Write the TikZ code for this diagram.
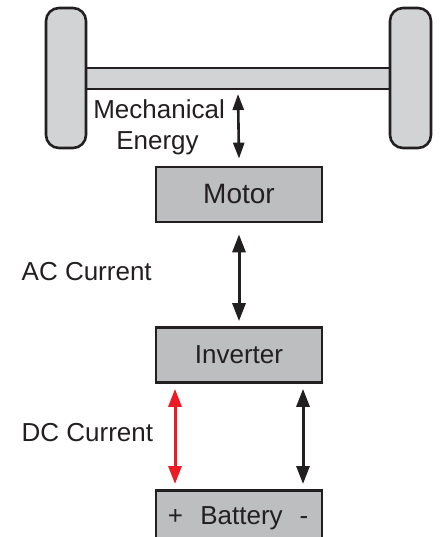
\documentclass[tikz,border=0pt]{standalone}
\usepackage{fontspec}
\setmainfont{Liberation Sans}
\usetikzlibrary{arrows.meta}
\definecolor{ink}{HTML}{231F20}
\definecolor{wheelgray}{HTML}{D1D3D4}
\definecolor{boxgray}{HTML}{BCBEC0}
\definecolor{dcred}{HTML}{ED1C24}
\tikzset{
  x=1pt,y=-1pt,
  wheel/.style={draw=ink,fill=wheelgray,line width=2.6pt,rounded corners=13pt},
  axle/.style={draw=ink,fill=wheelgray,line width=2.6pt},
  unit/.style={draw=ink,fill=boxgray,line width=2.7pt,minimum width=166pt,minimum height=55pt,inner sep=0pt,font=\fontsize{26}{31}\selectfont,text=ink},
  lbl/.style={font=\fontsize{26}{31}\selectfont,text=ink,inner sep=0pt},
  flow/.style={draw=ink,fill=ink,line width=3pt,{Triangle[length=18pt,width=13pt]}-{Triangle[length=18pt,width=13pt]}},
  smallflow/.style={draw=ink,fill=ink,line width=2.6pt,{Triangle[length=16pt,width=11pt]}-{Triangle[length=16pt,width=11pt]}},
}
\begin{document}
\begin{tikzpicture}
\useasboundingbox (0,0) rectangle (440,537);
\clip (0,0) rectangle (440,537);
% axle and wheels
\filldraw[axle] (84,68) rectangle (392,89);
\draw[wheel] (46,8) rectangle (86,148);
\draw[wheel] (390,8) rectangle (431,148);
\coordinate (mechtop) at (238,94);
% boxes
\node[unit,font=\fontsize{28}{33}\selectfont] (motor) at (239,194.5) {Motor};
\node[unit] (inverter) at (239,355) {Inverter};
\node[unit,minimum height=62pt,anchor=north] (battery) at (239,489) {};
\node[lbl,anchor=base] (plus) at (175.5,524) {+};
\node[lbl,anchor=base] (batt) at (241.5,524) {Battery};
\node[lbl,anchor=base] (minus) at (304,524) {-};
% labels
\node[lbl,anchor=base east] (mech) at (225,118.5) {Mechanical};
\node[lbl,anchor=base] (energy) at (157.5,150) {Energy};
\node[lbl,anchor=base west] (ac) at (21.5,280) {AC Current};
\node[lbl,anchor=base west] (dc) at (21.5,441.5) {DC Current};
% arrows
\draw[smallflow] (mechtop) -- ([yshift=7pt]motor.north);
\draw[flow] ([yshift=-11pt]motor.south) -- ([yshift=5pt]inverter.north);
\draw[flow,draw=dcred,fill=dcred] ([xshift=-64pt,yshift=-5pt]inverter.south) -- ([xshift=-64pt,yshift=5pt]battery.north);
\draw[flow] ([xshift=64pt,yshift=-5pt]inverter.south) -- ([xshift=64pt,yshift=5pt]battery.north);
\end{tikzpicture}
\end{document}
